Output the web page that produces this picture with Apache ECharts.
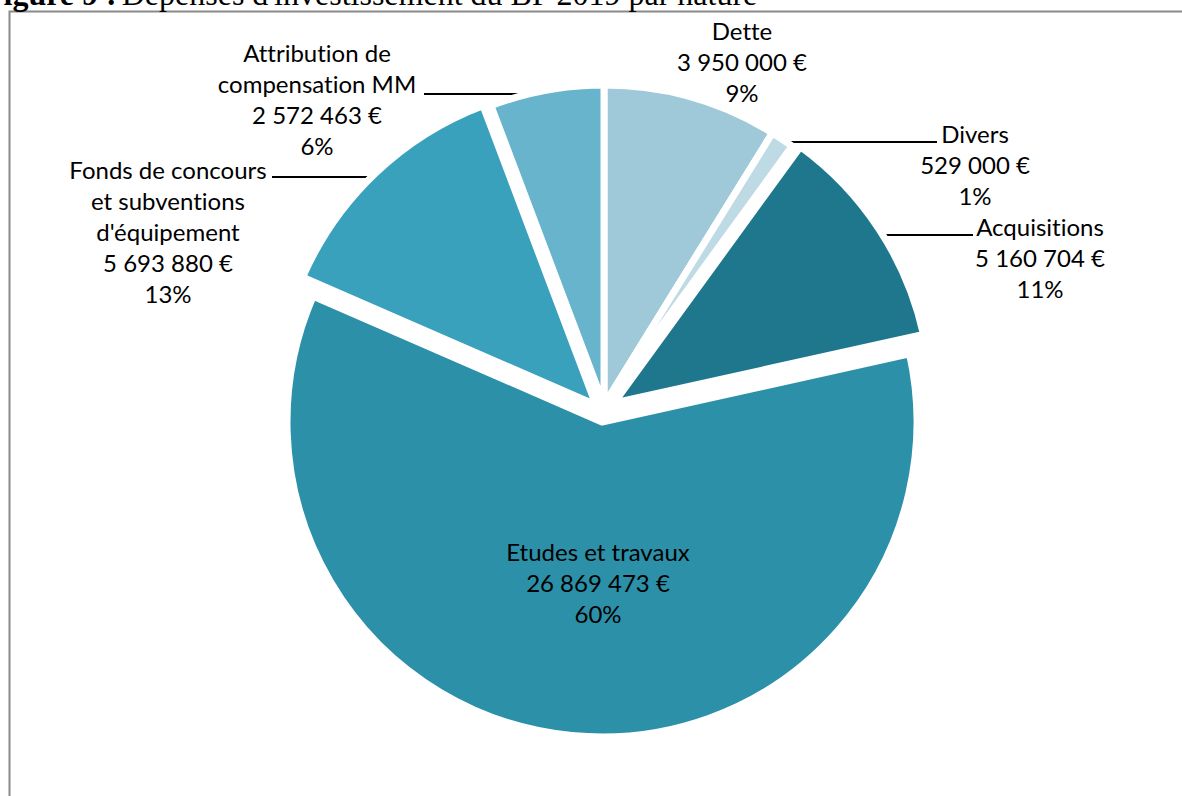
<!DOCTYPE html>
<html><head><meta charset="utf-8">
<script src="https://cdn.jsdelivr.net/npm/echarts@6/dist/echarts.min.js"></script>
<style>
html,body{margin:0;padding:0;background:#fff;overflow:hidden}
#c{width:1182px;height:796px}
#c text{font-variant-ligatures:none !important;font-feature-settings:"liga" 0,"clig" 0 !important}
</style>
</head><body><div id="c"></div>
<script>
// ---- data ----
const categories = ['Dette', 'Divers', 'Acquisitions', 'Etudes et travaux', 'Fonds de concours et subventions d\'équipement', 'Attribution de compensation MM'];
const labelTexts = ['Dette', 'Divers', 'Acquisitions', 'Etudes et travaux', 'Fonds de concours\net subventions\nd\'équipement', 'Attribution de\ncompensation MM'];
const values = [3950000, 529000, 5160704, 26869473, 5693880, 2572463];
const percentLabels = ['9%', '1%', '11%', '60%', '13%', '6%'];
const titleBold = 'Figure 9 :';
const titleRest = 'Dépenses d\'investissement du BP 2019 par nature';

// ---- styles / layout ----
const colors = ['#9FC8D8', '#BEDAE4', '#1E778C', '#2B90A8', '#3AA1BD', '#68B4CD'];
const FONT = 'Lato';
const FS = 24;
const LH = 31;
// exploded slice groups: each drawn by a pie with its own centre
const groups = [
  { members: [0, 1, 5], center: [604, 405], radius: 320 },
  { members: [3], center: [602, 422], radius: 315 },
  { members: [4], center: [596, 405], radius: 320 },
  { members: [2], center: [614, 403], radius: 317 }
];
// label block placement (center x, top y) and leader line [x1, x2, y]
const labelPlace = [
  { x: 742, y: 15 },
  { x: 975, y: 118, line: [787, 937, 142] },
  { x: 1040, y: 211, line: [878, 973, 235] },
  { x: 598, y: 536 },
  { x: 168, y: 154, line: [375, 272, 177] },
  { x: 317, y: 37, line: [541, 424, 94] }
];

function fmtEuro(v) {
  return String(v).replace(/\B(?=(\d{3})+(?!\d))/g, ' ') + ' €';
}

function makeSeries(g) {
  const data = categories.map((c, i) => {
    const own = g.members.indexOf(i) >= 0;
    const item = { name: c, value: values[i] };
    if (own) {
      item.itemStyle = { color: colors[i], borderColor: '#fff', borderWidth: 7 };
      const hasLine = !!labelPlace[i].line;
      item.label = { show: true, position: i === 3 ? 'inside' : 'outside' };
      item.labelLine = { show: hasLine };
    } else {
      item.itemStyle = { color: 'rgba(0,0,0,0)', borderWidth: 0 };
      item.label = { show: false };
      item.labelLine = { show: false };
    }
    return item;
  });
  return {
    type: 'pie',
    center: g.center,
    radius: [0, g.radius],
    startAngle: 90,
    clockwise: true,
    selectedMode: false,
    avoidLabelOverlap: false,
    silent: true,
    emphasis: { disabled: true },
    label: {
      fontFamily: FONT, fontSize: FS, lineHeight: LH, color: '#000',
      formatter: p => labelTexts[p.dataIndex] + '\n' + fmtEuro(values[p.dataIndex]) + '\n' + percentLabels[p.dataIndex]
    },
    labelLine: { length: 0, length2: 10, lineStyle: { color: '#000', width: 1.8 } },
    labelLayout: function (params) {
      const pl = labelPlace[params.dataIndex];
      if (!pl) return {};
      const res = { x: pl.x, y: pl.y, align: 'center', verticalAlign: 'top' };
      if (pl.line) {
        res.labelLinePoints = [[pl.line[0], pl.line[2]], [pl.line[1], pl.line[2]]];
      }
      return res;
    },
    data: data
  };
}

const chart = echarts.init(document.getElementById('c'), null, { renderer: 'svg' });
chart.setOption({
  animation: false,
  title: {
    text: '{b|' + titleBold + '} {n|' + titleRest + '}',
    left: -16, top: -22, padding: 0,
    textStyle: {
      rich: {
        b: { fontFamily: 'Liberation Serif', fontWeight: 'bold', fontSize: 32, lineHeight: 32, color: '#000' },
        n: { fontFamily: 'Liberation Serif', fontWeight: 'normal', fontSize: 32, lineHeight: 32, color: '#000' }
      }
    }
  },
  graphic: [{
    type: 'rect', z: -10, silent: true,
    shape: { x: 9.5, y: 11.5, width: 1400, height: 1000 },
    style: { fill: 'none', stroke: '#8a8a8a', lineWidth: 2 }
  }],
  series: groups.map(makeSeries)
});
</script>
</body></html>
